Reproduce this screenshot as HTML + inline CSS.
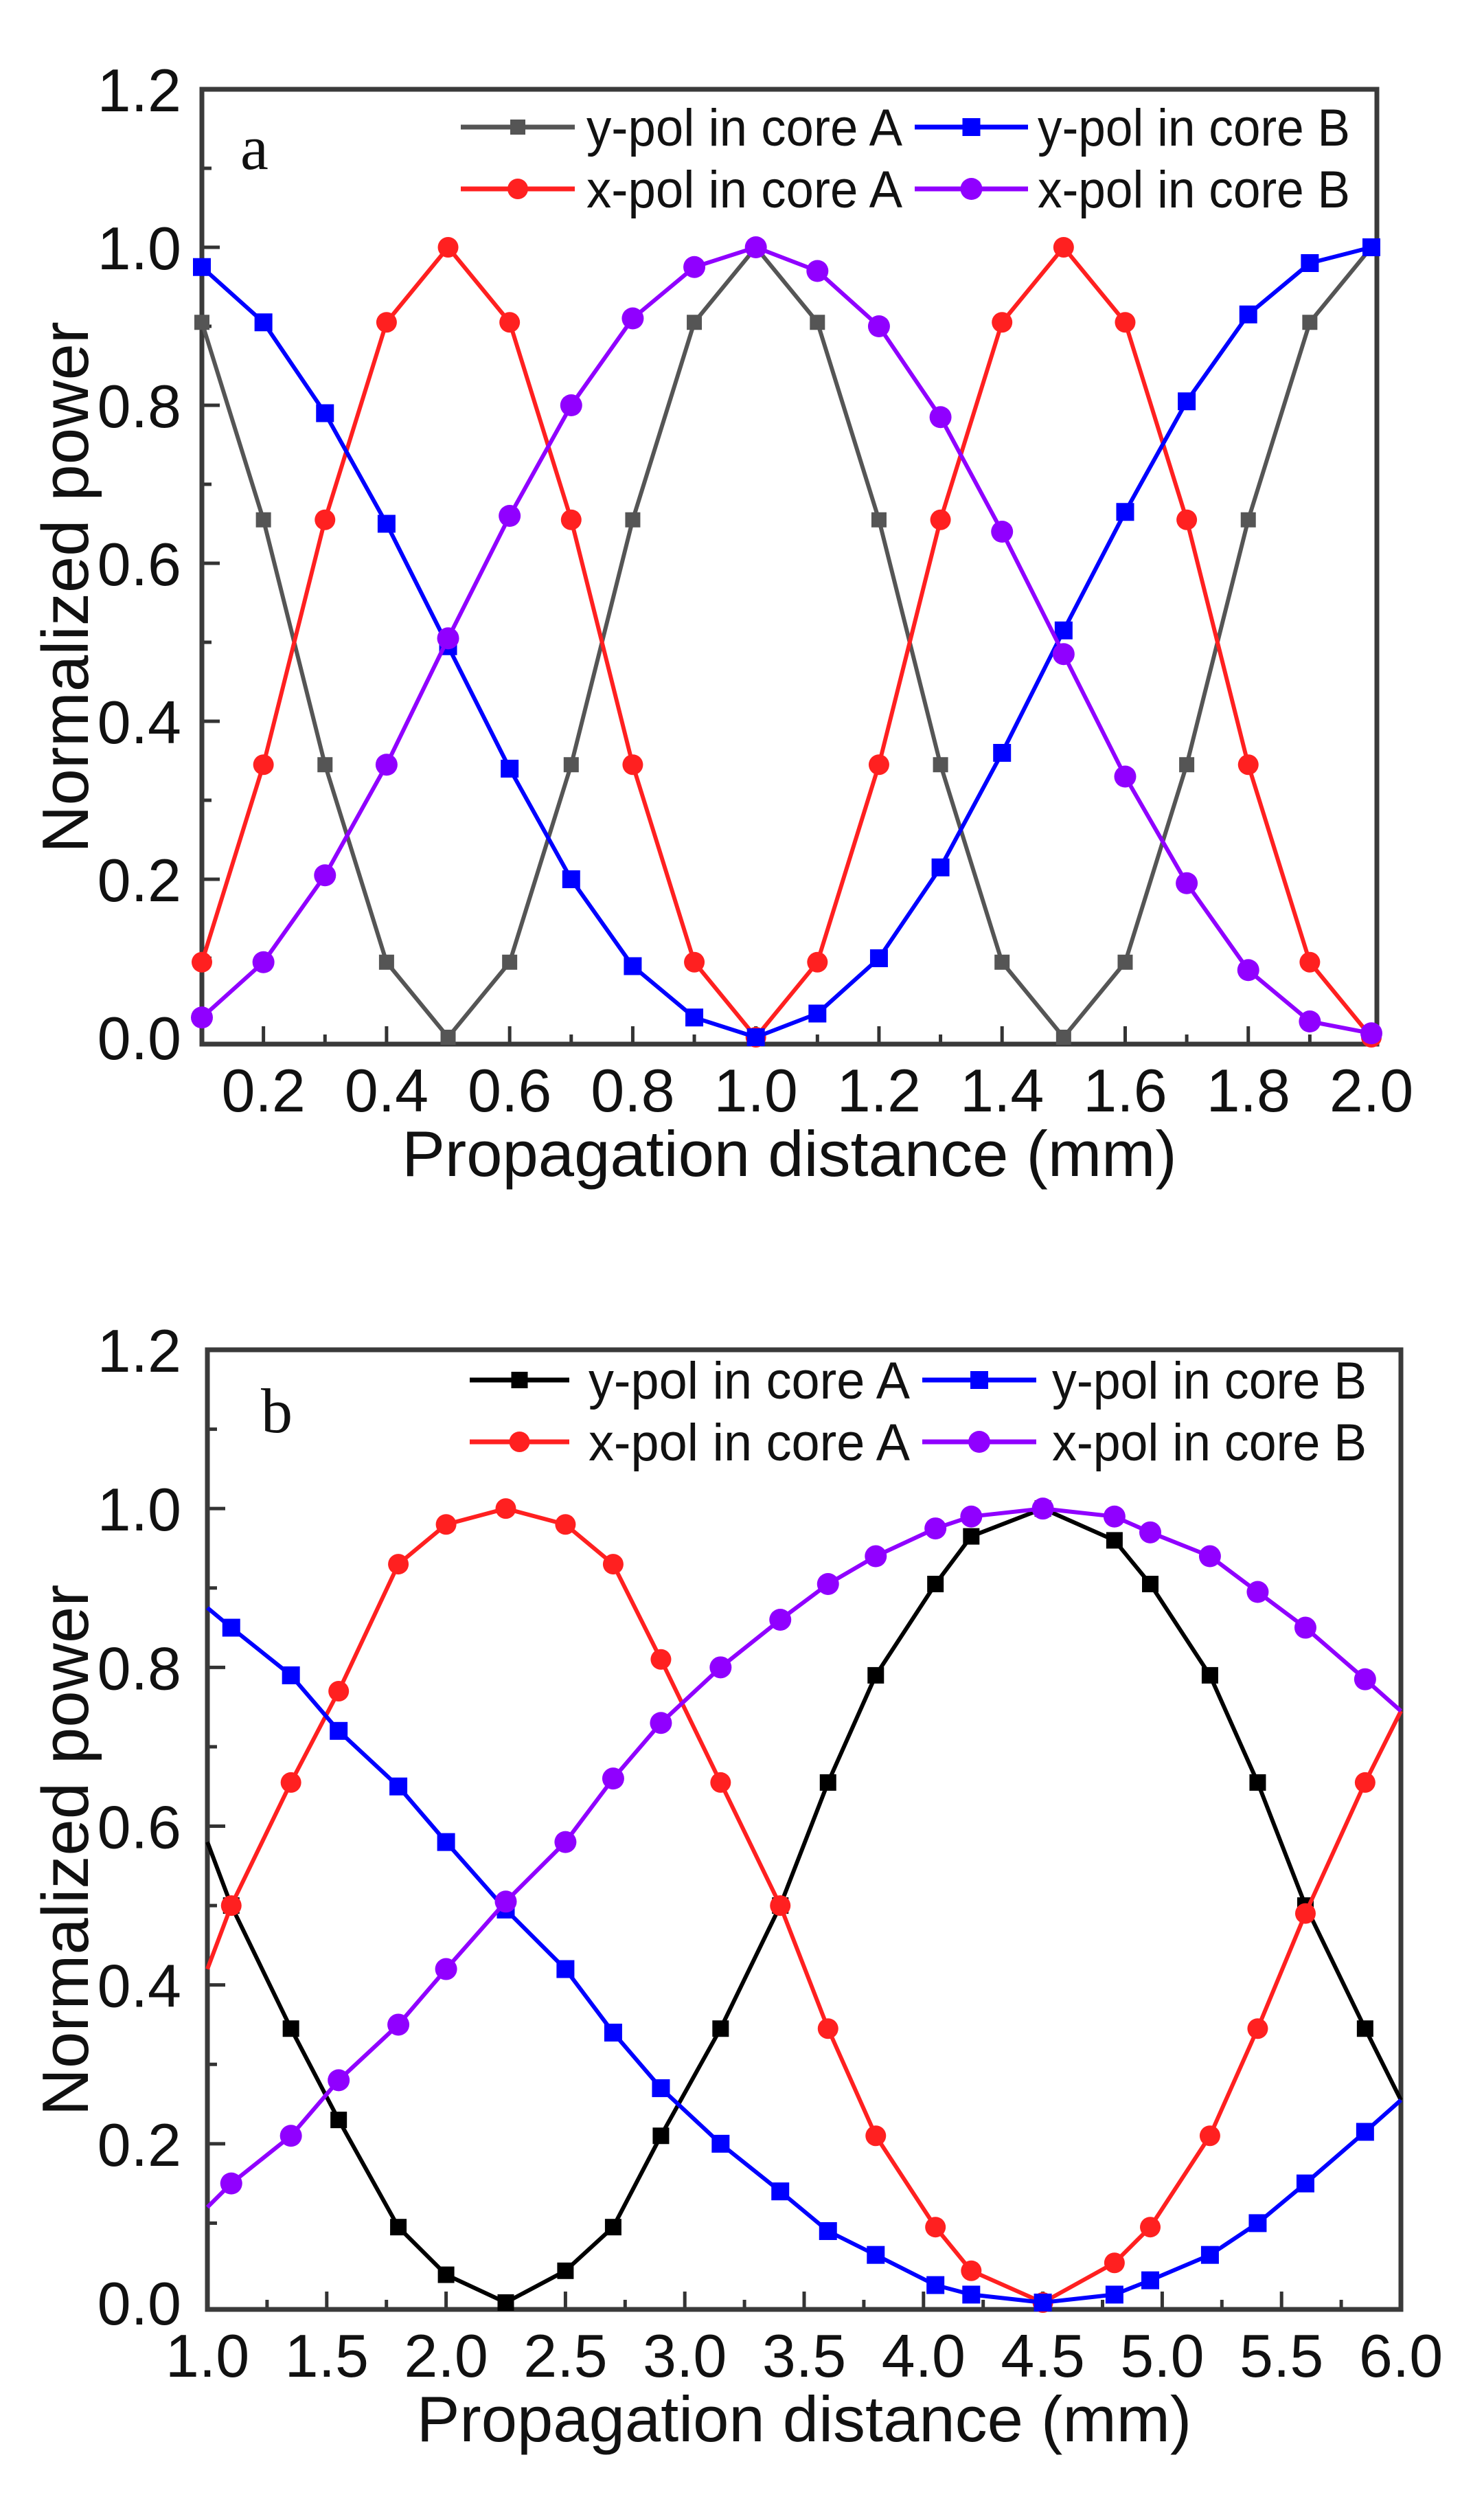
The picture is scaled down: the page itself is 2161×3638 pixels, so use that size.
<!DOCTYPE html>
<html><head><meta charset="utf-8"><style>
html,body{margin:0;padding:0;background:#fff;}
svg{display:block;font-family:"Liberation Sans",Arial,sans-serif;}
</style></head><body>
<svg id="fig" width="2161" height="3638" viewBox="0 0 2161 3638" xmlns="http://www.w3.org/2000/svg">
<rect width="2161" height="3638" fill="#fff"/>
</svg>
<script>
// ---- Panel a data ----
const xA = [0.1,0.2,0.3,0.4,0.5,0.6,0.7,0.8,0.9,1.0,1.1,1.2,1.3,1.4,1.5,1.6,1.7,1.8,1.9,2.0];
const aYpolA = [0.905,0.655,0.345,0.095,0,0.095,0.345,0.655,0.905,1.0,0.905,0.655,0.345,0.095,0,0.095,0.345,0.655,0.905,1.0];
const aXpolA = [0.095,0.345,0.655,0.905,1.0,0.905,0.655,0.345,0.095,0,0.095,0.345,0.655,0.905,1.0,0.905,0.655,0.345,0.095,0];
const aYpolB = [0.975,0.905,0.79,0.65,0.495,0.34,0.2,0.09,0.025,0,0.03,0.1,0.215,0.36,0.515,0.665,0.805,0.915,0.98,1.0];
const aXpolB = [0.025,0.095,0.205,0.345,0.505,0.66,0.8,0.91,0.975,1.0,0.97,0.9,0.785,0.64,0.485,0.33,0.195,0.085,0.02,0.005];
const aXTicks = ["0.2","0.4","0.6","0.8","1.0","1.2","1.4","1.6","1.8","2.0"];
const yTicks = ["0.0","0.2","0.4","0.6","0.8","1.0","1.2"];
// ---- Panel b data ----
const xB = [1.0,1.1,1.35,1.55,1.8,2.0,2.25,2.5,2.7,2.9,3.15,3.4,3.6,3.8,4.05,4.2,4.5,4.8,4.95,5.2,5.4,5.6,5.85,6.0];
const bYpolA = [0.58,0.5,0.345,0.23,0.095,0.035,0,0.04,0.095,0.21,0.345,0.5,0.655,0.79,0.905,0.965,1.0,0.96,0.905,0.79,0.655,0.5,0.345,0.255];
const bXpolA = [0.42,0.5,0.655,0.77,0.93,0.98,1.0,0.98,0.93,0.81,0.655,0.5,0.345,0.21,0.095,0.04,0,0.05,0.095,0.21,0.345,0.49,0.655,0.745];
const bYpolB = [0.875,0.85,0.79,0.72,0.65,0.58,0.495,0.42,0.34,0.27,0.2,0.14,0.09,0.06,0.022,0.01,0,0.01,0.028,0.06,0.1,0.15,0.215,0.255];
const bXpolB = [0.12,0.15,0.21,0.28,0.35,0.42,0.505,0.58,0.66,0.73,0.8,0.86,0.905,0.94,0.975,0.99,1.0,0.99,0.97,0.94,0.895,0.85,0.785,0.745];
const bXTicks = ["1.0","1.5","2.0","2.5","3.0","3.5","4.0","4.5","5.0","5.5","6.0"];
const legendLabels = ["y-pol in core A","y-pol in core B","x-pol in core A","x-pol in core B"];

const NS="http://www.w3.org/2000/svg";
const svg=document.getElementById('fig');
function mk(tag,attrs,parent){const e=document.createElementNS(NS,tag);for(const k in attrs)e.setAttribute(k,attrs[k]);(parent||svg).appendChild(e);return e;}

function panel(cfg){
  const g=mk('g',{});
  
  
  const X=v=>cfg.px0+(v-cfg.x0)/(cfg.x1-cfg.x0)*(cfg.px1-cfg.px0);
  const Y=v=>cfg.py0-(v)/1.2*(cfg.py0-cfg.py12);
  const tg=mk('g',{},g);
  
  
  for(let v=cfg.x0;v<=cfg.x1+1e-9;v+=cfg.minor){
    const isMaj=Math.abs(Math.round((v-cfg.majStart)/cfg.major)*cfg.major-(v-cfg.majStart))<1e-6;
    const L=isMaj?26:14;
    mk('line',{x1:X(v),x2:X(v),y1:cfg.fb,y2:cfg.fb-L,stroke:'#333','stroke-width':5},tg);
  }
  cfg.xticks.forEach(t=>{
    const v=parseFloat(t);
    const e=mk('text',{x:X(v),y:cfg.fb+98,'font-size':88,'text-anchor':'middle',fill:'#111'},tg);
    e.textContent=t;
    
    
  });
  const yg=mk('g',{},g);
  
  
  for(let i=1;i<=12;i++){
    const v=i/10; const L=(i%2==0)?26:14;
    mk('line',{x1:cfg.fl,x2:cfg.fl+L,y1:Y(v),y2:Y(v),stroke:'#333','stroke-width':5},yg);
  }
  yTicks.forEach(t=>{
    const v=parseFloat(t);
    const e=mk('text',{x:264,y:Y(v)+32,'font-size':88,'text-anchor':'end',fill:'#111'},yg);
    e.textContent=t;
    
    
  });
  const fr=mk('rect',{x:cfg.fl,y:cfg.ft,width:cfg.fr-cfg.fl,height:cfg.fb-cfg.ft,fill:'none',stroke:'#3a3a3a','stroke-width':7},g);
  
  
  const xt=mk('text',{x:(cfg.fl+cfg.fr)/2,y:cfg.fb+192,'font-size':94,'text-anchor':'middle',fill:'#111'},g);
  xt.textContent='Propagation distance (mm)';
  
  
  const ycy=(cfg.ft+cfg.fb)/2+30;
  const yt=mk('text',{x:0,y:0,'font-size':96,'text-anchor':'middle',fill:'#111',transform:`translate(128,${ycy}) rotate(-90)`},g);
  yt.textContent='Normalized power';
  
  
  const pl=mk('text',{x:cfg.letterX,y:cfg.letterY,'font-size':92,'font-family':'"Liberation Serif",serif',fill:'#111'},g);
  pl.textContent=cfg.letter;
  
  
  const series=[
    {ys:cfg.s[0],c:cfg.blackColor,m:'sq',sz:cfg.blackSz,n:'series-ypol-core-a'},
    {ys:cfg.s[1],c:'#ff2020',m:'ci',sz:15,n:'series-xpol-core-a'},
    {ys:cfg.s[2],c:'#0000ff',m:'sq',sz:26,n:'series-ypol-core-b'},
    {ys:cfg.s[3],c:'#9000ff',m:'ci',sz:16,n:'series-xpol-core-b'}
  ];
  series.forEach(s=>{
    const sg=mk('g',{},g);
    
    
    const pts=cfg.xs.map((x,i)=>X(x).toFixed(1)+','+Y(s.ys[i]).toFixed(1)).join(' ');
    mk('polyline',{points:pts,fill:'none',stroke:s.c,'stroke-width':6,'stroke-linejoin':'round'},sg);
    cfg.xs.forEach((x,i)=>{
      if(cfg.skipEnds&&(i==0||i==cfg.xs.length-1))return;
      let e;
      if(s.m=='sq') e=mk('rect',{x:X(x)-s.sz/2,y:Y(s.ys[i])-s.sz/2,width:s.sz,height:s.sz,fill:s.c},sg);
      else e=mk('circle',{cx:X(x),cy:Y(s.ys[i]),r:s.sz,fill:s.c},sg);
      
      
    });
  });
  const lg=mk('g',{},g);
  
  
  const cols=[series[0],series[2],series[1],series[3]];
  cols.forEach((s,i)=>{
    const c=i%2, r=Math.floor(i/2);
    const L=cfg.leg[c], y=cfg.legY[r];
    const eg=mk('g',{},lg);
    
    
    mk('line',{x1:L[0],x2:L[1],y1:y,y2:y,stroke:s.c,'stroke-width':7},eg);
    const mx=(L[0]+L[1])/2;
    if(s.m=='sq') mk('rect',{x:mx-s.sz/2,y:y-s.sz/2,width:s.sz,height:s.sz,fill:s.c},eg);
    else mk('circle',{cx:mx,cy:y,r:s.sz,fill:s.c},eg);
    const t=mk('text',{x:L[2],y:y+27,'font-size':76,fill:'#111',textLength:L[3]-L[2],lengthAdjust:'spacingAndGlyphs'},eg);
    t.textContent=legendLabels[i];
  });
}

panel({name:'panel-a',xs:xA,s:[aYpolA,aXpolA,aYpolB,aXpolB],x0:0.1,x1:2.0,px0:294,px1:1997,
  py0:1510,py12:130,fl:294,fr:2005,ft:130,fb:1520,minor:0.1,major:0.2,majStart:0.2,
  xticks:aXTicks,letter:'a',letterX:350,letterY:246,blackColor:'#555',blackSz:22,skipEnds:false,
  leg:[[671,837,854,1314],[1332,1497,1511,1966]],legY:[185,275]});
panel({name:'panel-b',xs:xB,s:[bYpolA,bXpolA,bYpolB,bXpolB],x0:1.0,x1:6.0,px0:302,px1:2040,
  py0:3352,py12:1965,fl:302,fr:2040,ft:1965,fb:3362,minor:0.25,major:0.5,majStart:1.0,
  xticks:bXTicks,letter:'b',letterX:380,letterY:2085,blackColor:'#000',blackSz:24,skipEnds:true,
  leg:[[684,829,857,1325],[1343,1509,1532,1990]],legY:[2009,2099]});
</script>
</body></html>
